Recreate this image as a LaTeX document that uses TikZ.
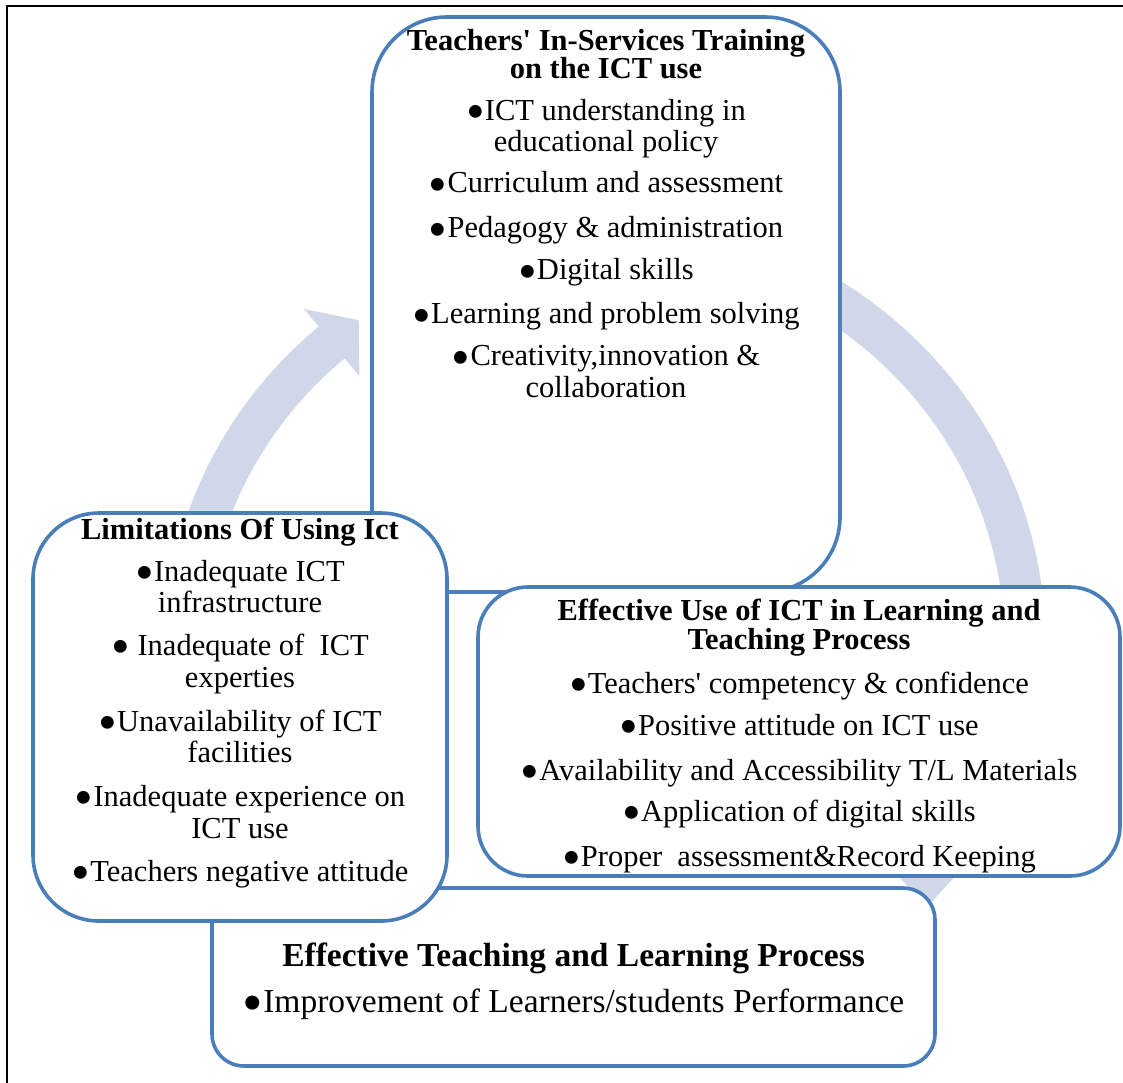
\documentclass[tikz,border=0pt]{standalone}
\usepackage{fontspec}
\setmainfont{Liberation Serif}
\usepackage{graphicx}
\usetikzlibrary{arrows.meta}
\definecolor{accent}{RGB}{74,126,187}
\definecolor{cycle}{RGB}{208,215,232}
\newcommand{\bul}{\raisebox{-0.3em}{\scalebox{1.75}{\textbullet}}}

\begin{document}
\begin{tikzpicture}[x=1pt, y=-1pt,
  box/.style={draw=accent, line width=3.6pt, fill=white, inner sep=0pt},
  txt/.style={align=center, inner sep=0pt, font=\fontsize{30.5}{31.5}\selectfont},
  band/.style={draw=cycle, line width=41pt},
]
\useasboundingbox (0,0) rectangle (1123,1082);
\draw[line width=2.2pt] (7,1100) -- (7,6) -- (1140,6);
% cycle arrows (behind the boxes)
\draw[band] plot[domain=190:230, samples=40] ({605+420*cos(\x)}, {650+405*sin(\x)});
\fill[cycle] (304,309) -- (358.7,320.2) -- (359.4,376) -- cycle;
\draw[band] plot[domain=-75:30, samples=80] ({605+420*cos(\x)}, {643+408*sin(\x)});
\fill[cycle] (880,858) -- (928,906) -- (968,862) -- cycle;
% boxes
\node[box, minimum width=468pt, minimum height=575pt, rounded corners=75pt] (train)  at (606,304.5) {};
\node[box, minimum width=723pt, minimum height=178pt, rounded corners=32pt] (result) at (573.5,977) {};
\node[box, minimum width=642pt, minimum height=289pt, rounded corners=50pt] (effuse) at (799,731.5) {};
\node[box, minimum width=414pt, minimum height=408pt, rounded corners=66pt] (limit)  at (240,717) {};
% box texts
\node[txt, anchor=north] (trainText) at (606,29) {%
  \textbf{Teachers\textquotesingle\ In-Services Training}\\[-3.5pt]
  \textbf{on the ICT use}\\[10.5pt]
  \bul ICT understanding in\\ educational policy\\[9.5pt]
  \bul Curriculum and assessment\\[13.5pt]
  \bul Pedagogy \& administration\\[10.5pt]
  \bul Digital skills\\[12.5pt]
  \bul Learning and problem solving\\[10.5pt]
  \bul Creativity,innovation \&\\ collaboration};
\node[txt] (limitText) at (240,704) {%
  \textbf{Limitations Of Using Ict}\\[10.5pt]
  \bul Inadequate ICT\\ infrastructure\\[11.5pt]
  \bul\ Inadequate of\ \ ICT\\ experties\\[12.5pt]
  \bul Unavailability of ICT\\ facilities\\[12.5pt]
  \bul Inadequate experience on\\ ICT use\\[11.5pt]
  \bul Teachers negative attitude};
\node[txt] (effuseText) at (799,737) {%
  \textbf{Effective Use of ICT in Learning and}\\[-2.5pt]
  \textbf{Teaching Process}\\[12.5pt]
  \bul Teachers\textquotesingle\ competency \& confidence\\[11pt]
  \bul Positive attitude on ICT use\\[13pt]
  \bul Availability and Accessibility T/L Materials\\[10pt]
  \bul Application of digital skills\\[13pt]
  \bul Proper\ \ assessment\&Record Keeping};
\node[txt, font=\fontsize{33.5}{35}\selectfont] (resultText) at (573.5,983) {%
  \textbf{Effective Teaching and Learning Process}\\[11pt]
  \bul Improvement of Learners/students Performance};
\end{tikzpicture}
\end{document}
